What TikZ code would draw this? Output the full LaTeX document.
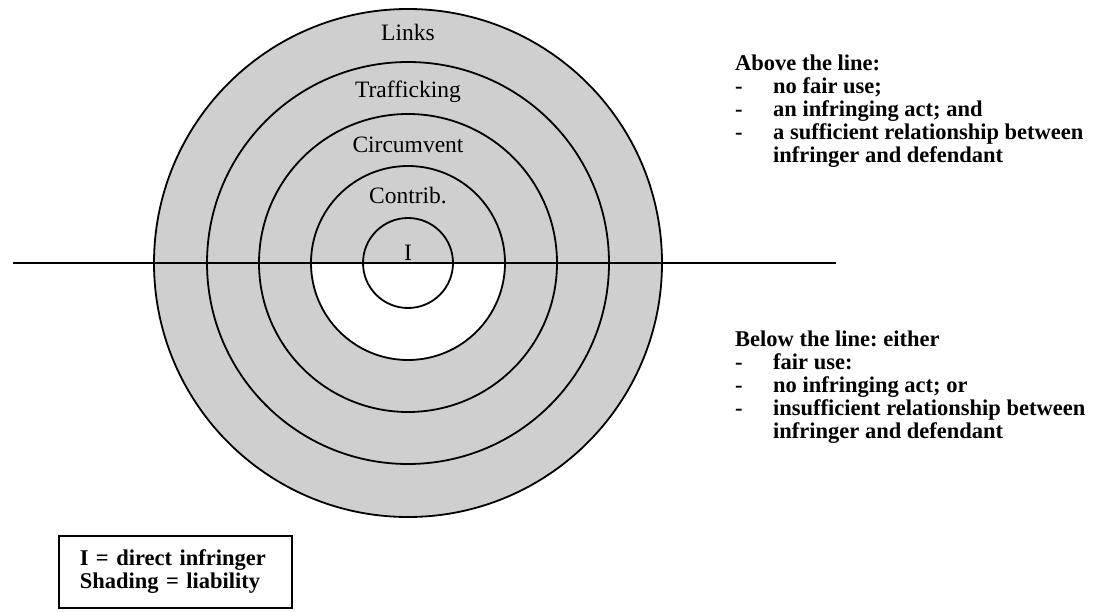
\documentclass[tikz,border=0pt]{standalone}
\usepackage{fontspec}
\setmainfont{Liberation Serif}
\usetikzlibrary{positioning}
\frenchspacing

\begin{document}
\begin{tikzpicture}[x=1pt, y=-1pt,
  ring/.style={draw, line width=1.8pt},
  ringlabel/.style={font=\fontsize{23.5}{25}\selectfont, inner sep=0pt},
  notes/.style={font=\bfseries\fontsize{22.5}{23}\selectfont, inner sep=0pt, anchor=base west},
  keybox/.style={draw, line width=1.5pt, anchor=north west, minimum width=233pt, minimum height=72pt,
    inner xsep=21pt, text width=191pt, align=left, font=\bfseries\fontsize{22.5}{23}\selectfont}
]
  \useasboundingbox (0,0) rectangle (1110,612);
  \coordinate (ctr) at (408,263);

  % liability shading, lower half of the inner rings left blank
  \fill[black!19] (ctr) circle[radius=254pt];
  \fill[white] ([xshift=-97pt]ctr) arc[start angle=180, end angle=360, radius=97pt] -- cycle;

  \foreach \r in {45,97,149,201,254}
    \draw[ring] (ctr) circle[radius=\r pt];

  \coordinate (lineW) at (13,263);
  \coordinate (lineE) at (836,263);
  \draw[line width=1.8pt] (lineW) -- (lineE);

  \node[ringlabel] (links) at (408,32) {Links};
  \node[ringlabel] (traff) at (408,92) {Trafficking};
  \node[ringlabel] (circ) at (408,145) {Circumvent};
  \node[ringlabel] (contrib) at (408,196) {Contrib.};
  \node[ringlabel, anchor=base] (infr) at (408,261) {I};

  \node[notes] (above) at (735,71) {\begin{tabular}[t]{@{}p{38pt}@{}l@{}}
      \multicolumn{2}{@{}l@{}}{Above the line:}\\
      - & no fair use;\\
      - & an infringing act; and\\
      - & a sufficient relationship between\\
        & infringer and defendant
    \end{tabular}};
  \node[notes] (below) at (735,346) {\begin{tabular}[t]{@{}p{38pt}@{}l@{}}
      \multicolumn{2}{@{}l@{}}{Below the line: either}\\
      - & fair use:\\
      - & no infringing act; or\\
      - & insufficient relationship between\\
        & infringer and defendant
    \end{tabular}};

  \node[keybox] (key) at (58,535) {I = direct infringer\\ Shading = liability};
\end{tikzpicture}
\end{document}
